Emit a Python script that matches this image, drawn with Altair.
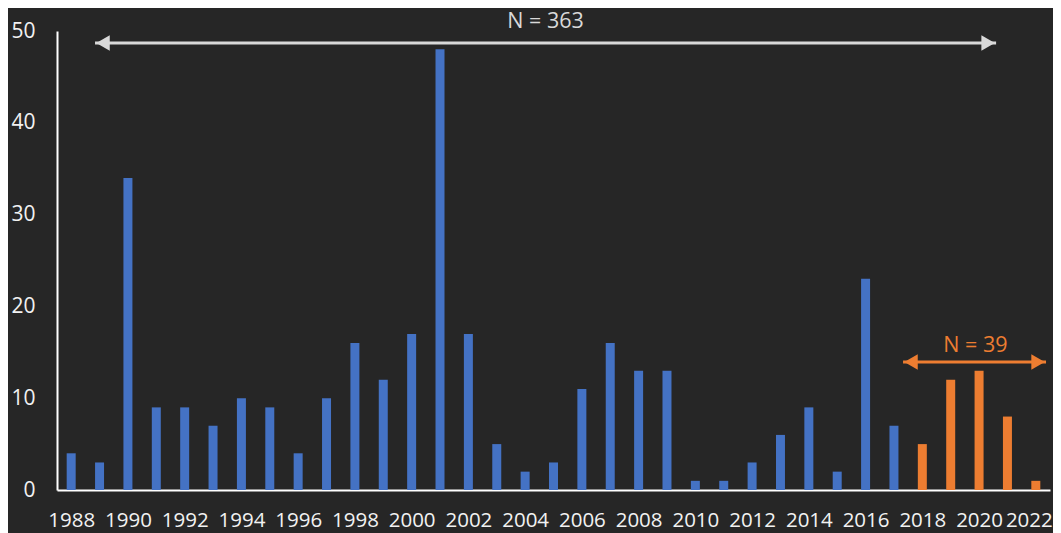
import altair as alt
import pandas as pd

years = list(range(1988, 2023))
counts = [4, 3, 34, 9, 9, 7, 10, 9, 4, 10, 16, 12, 17, 48, 17, 5, 2, 3, 11, 16,
          13, 13, 1, 1, 3, 6, 9, 2, 23, 7, 5, 12, 13, 8, 1]
period = ["1988-2017"] * 30 + ["2018-2022"] * 5
tick_years = list(range(1988, 2023, 2))

ann_group = ["all", "recent"]
ann_label = ["N = 363", "N = 39"]
ann_start = [1988.84, 2017.32]
ann_end = [2020.60, 2022.36]
ann_level = [48.69, 13.94]
ann_text_x = [2004.72, 2019.87]
ann_text_y = [51.0, 15.7]

bars_df = pd.DataFrame({"year": years, "count": counts, "period": period})
ann_df = pd.DataFrame({"group": ann_group, "label": ann_label, "start": ann_start,
                       "end": ann_end, "level": ann_level,
                       "tx": ann_text_x, "ty": ann_text_y})

color_scale = alt.Scale(domain=["1988-2017", "2018-2022", "all", "recent"],
                        range=["#4472C4", "#ED7D31", "#D9D9D9", "#ED7D31"])
xscale = alt.Scale(domain=[1987.5, 2022.5], nice=False, zero=False, padding=0)
yscale = alt.Scale(domain=[0, 50], nice=False)

bars = alt.Chart(bars_df).mark_bar(size=9).encode(
    x=alt.X("year:Q", scale=xscale,
            axis=alt.Axis(values=tick_years, format="d", title=None, grid=False,
                          ticks=False, domainColor="#FFFFFF", domainWidth=2,
                          labelColor="#F2F2F2", labelFontSize=20.5, labelPadding=20,
                          labelFont="Open Sans", labelFlush=False,
                          labelOffset={"condition": {"test": "datum.value == 2022",
                                                     "value": -7},
                                       "value": 0})),
    y=alt.Y("count:Q", scale=yscale,
            axis=alt.Axis(values=[0, 10, 20, 30, 40, 50], title=None, grid=False,
                          ticks=False, domainColor="#FFFFFF", domainWidth=2,
                          labelColor="#F2F2F2", labelFontSize=21, labelPadding=22,
                          labelFont="Open Sans")),
    color=alt.Color("period:N", scale=color_scale, legend=None),
)

base = alt.Chart(ann_df)
lines = base.mark_rule(strokeWidth=3).encode(
    x=alt.X("start:Q", scale=xscale), x2="end:Q",
    y=alt.Y("level:Q", scale=yscale),
    color=alt.Color("group:N", scale=color_scale, legend=None),
)
left_heads = base.mark_point(shape="triangle-left", filled=True, size=240,
                             opacity=1, xOffset=8).encode(
    x=alt.X("start:Q", scale=xscale), y=alt.Y("level:Q", scale=yscale),
    color=alt.Color("group:N", scale=color_scale, legend=None),
)
right_heads = base.mark_point(shape="triangle-right", filled=True, size=240,
                              opacity=1, xOffset=-8).encode(
    x=alt.X("end:Q", scale=xscale), y=alt.Y("level:Q", scale=yscale),
    color=alt.Color("group:N", scale=color_scale, legend=None),
)
texts = base.mark_text(font="Open Sans", fontSize=21.5, baseline="middle",
                       align="center").encode(
    x=alt.X("tx:Q", scale=xscale), y=alt.Y("ty:Q", scale=yscale),
    text="label:N",
    color=alt.Color("group:N", scale=color_scale, legend=None),
)

chart = alt.layer(bars, lines, left_heads, right_heads, texts).properties(
    width=993, height=459,
    autosize=alt.AutoSizeParams(type="none"),
    padding={"left": 49, "top": 23, "right": 3, "bottom": 43},
    background="#262626",
).configure_view(strokeWidth=0)

chart.save("out.html", embed_options={"renderer": "svg", "actions": False})
